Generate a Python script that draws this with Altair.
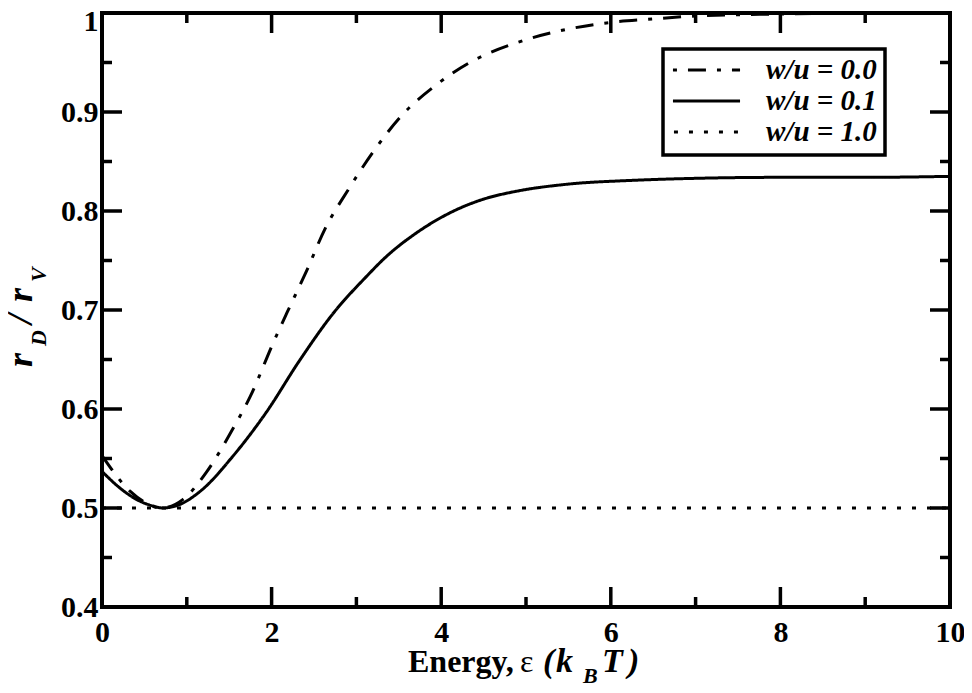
import altair as alt
import pandas as pd

# ---- data ----
series_labels = ["w/u = 0.0", "w/u = 0.1", "w/u = 1.0"]

energy_00 = [0.0, 0.33, 0.5, 0.7, 0.96, 1.23, 1.55, 1.75, 2.02, 2.18, 2.41, 2.63, 2.90,
             3.20, 3.53, 3.95, 4.38, 4.89, 5.40, 5.95, 6.50, 7.0, 8.0, 9.0, 10.0]
ratio_00 = [0.553, 0.517, 0.506, 0.500, 0.509, 0.536, 0.581, 0.613, 0.667, 0.697, 0.739, 0.782, 0.821,
            0.860, 0.896, 0.928, 0.952, 0.970, 0.982, 0.990, 0.994, 0.997, 0.999, 1.000, 1.000]

energy_01 = [0.0, 0.2, 0.4, 0.6, 0.72, 0.9, 1.16, 1.55, 1.94, 2.33, 2.73, 3.12, 3.34, 3.71,
             4.1, 4.5, 4.89, 5.48, 6.27, 7.0, 8.0, 9.0, 10.0]
ratio_01 = [0.537, 0.521, 0.509, 0.502, 0.500, 0.503, 0.517, 0.553, 0.597, 0.649, 0.697, 0.734, 0.753, 0.778,
            0.798, 0.812, 0.820, 0.827, 0.831, 0.833, 0.834, 0.834, 0.835]

energy_10 = [0.0, 10.0]
ratio_10 = [0.5, 0.5]

x_major = [0, 2, 4, 6, 8, 10]
x_minor = [1, 3, 5, 7, 9]
y_major = [0.4, 0.5, 0.6, 0.7, 0.8, 0.9, 1.0]
y_minor = [0.45, 0.55, 0.65, 0.75, 0.85, 0.95]

y_title_parts = ["r", "D", "/", "r", "V"]
x_title_parts = ["Energy,", "ε", "(", "k", "B", "T", ")"]

# ---- build table ----
rows = []
for lab, xs, ys in zip(series_labels, [energy_00, energy_01, energy_10], [ratio_00, ratio_01, ratio_10]):
    for i, (a, b) in enumerate(zip(xs, ys)):
        rows.append({"series": lab, "energy": a, "ratio": b, "order": i})
df = pd.DataFrame(rows)

W, H = 848, 594
FONT = "Liberation Serif"

xscale = alt.Scale(domain=[0, 10], nice=False, zero=False)
yscale = alt.Scale(domain=[0.4, 1.0], nice=False, zero=False)

lines = alt.Chart(df).mark_line(strokeWidth=3, interpolate="monotone", color="black").encode(
    x=alt.X("energy:Q", scale=xscale,
            axis=alt.Axis(orient="bottom", values=x_major, title=None, ticks=False, tickSize=0,
                          domain=False, grid=False,
                          labelFont=FONT, labelFontSize=30, labelFontWeight="bold", labelColor="black",
                          labelPadding=10, labelFlush=False, labelOverlap=False)),
    y=alt.Y("ratio:Q", scale=yscale,
            axis=alt.Axis(orient="left", values=y_major, title=None, ticks=False, tickSize=0,
                          domain=False, grid=False,
                          labelFont=FONT, labelFontSize=30, labelFontWeight="bold", labelColor="black",
                          labelPadding=4, labelFlush=False, labelOverlap=False,
                          labelOffset={"condition": {"test": "datum.value >= 0.99", "value": 8}, "value": 0},
                          labelExpr="datum.value >= 0.99 ? '1' : format(datum.value, '.1f')")),
    strokeDash=alt.StrokeDash(
        "series:N",
        scale=alt.Scale(domain=series_labels, range=[[18, 11, 4, 11], [1, 0], [4, 11]]),
        legend=alt.Legend(title=None, orient="none", legendX=561, legendY=36,
                          symbolType="stroke", symbolSize=4500, symbolStrokeWidth=3,
                          symbolStrokeColor="black", symbolDashOffset=29,
                          clipHeight=26, rowPadding=2,
                          labelFont=FONT, labelFontSize=29, labelFontStyle="italic",
                          labelFontWeight="bold", labelColor="black", labelOffset=24,
                          padding=8, strokeColor="black", fillColor="white"),
    ),
    order="order:Q",
)

def xticks(vals, length, top):
    d = pd.DataFrame({"v": vals})
    if top:
        yy, yy2 = 0, length
    else:
        yy, yy2 = H, H - length
    return alt.Chart(d).mark_rule(strokeWidth=3.5, color="black").encode(
        x=alt.X("v:Q", scale=xscale, axis=None), y=alt.value(yy), y2=alt.value(yy2))

def yticks(vals, length, left):
    d = pd.DataFrame({"v": vals})
    if left:
        xx, xx2 = 0, length
    else:
        xx, xx2 = W, W - length
    return alt.Chart(d).mark_rule(strokeWidth=3.5, color="black").encode(
        y=alt.Y("v:Q", scale=yscale, axis=None), x=alt.value(xx), x2=alt.value(xx2))

ticks = [
    xticks(x_major, 20, False), xticks(x_major, 20, True),
    xticks(x_minor, 10, False), xticks(x_minor, 10, True),
    yticks(y_major, 20, True), yticks(y_major, 20, False),
    yticks(y_minor, 10, True), yticks(y_minor, 10, False),
]

def txt(s, x, y, size, italic=True, bold=True, angle=0):
    d = pd.DataFrame({"t": [s]})
    kw = dict(font=FONT, fontSize=size, align="left", baseline="alphabetic", color="black",
              fontWeight="bold" if bold else "normal", fontStyle="italic" if italic else "normal")
    if angle:
        kw["angle"] = angle
    return alt.Chart(d).mark_text(**kw).encode(text="t:N", x=alt.value(x), y=alt.value(y))

# y title (rotated)
ytitle = [
    txt(y_title_parts[0], -70, 354, 36, angle=270),
    txt(y_title_parts[1], -56, 333, 22, angle=270),
    txt(y_title_parts[2], -70, 311, 36, angle=270),
    txt(y_title_parts[3], -70, 289, 36, angle=270),
    txt(y_title_parts[4], -56, 269, 22, angle=270),
]
# x title
xtitle = [
    txt(x_title_parts[0], 306, 659, 32, italic=False),
    txt(x_title_parts[1], 418, 659, 32, italic=False, bold=False),
    txt(x_title_parts[2], 441, 659, 34),
    txt(x_title_parts[3], 454, 659, 34),
    txt(x_title_parts[4], 481, 670, 22),
    txt(x_title_parts[5], 500, 659, 34),
    txt(x_title_parts[6], 526, 659, 34),
]

chart = alt.layer(lines, *ticks, *ytitle, *xtitle).resolve_axis(
    x="independent", y="independent"
).properties(
    width=W, height=H,
    padding={"left": 94, "top": 5, "right": 14, "bottom": 76},
    autosize=alt.AutoSizeParams(type="none"),
).configure_view(stroke="black", strokeWidth=4).configure_legend(strokeWidth=3.5)

chart.save("out.html", embed_options={"renderer": "svg", "actions": False})
